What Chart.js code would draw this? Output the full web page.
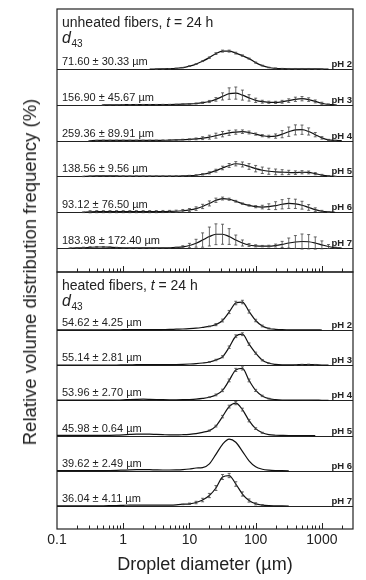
<!DOCTYPE html>
<html>
<head>
<meta charset="utf-8">
<script src="https://cdn.jsdelivr.net/npm/chart.js@4.4.1/dist/chart.umd.min.js"></script>
<style>
  html, body { margin: 0; padding: 0; background: #fff; }
  #wrap { position: relative; width: 366px; height: 580px; overflow: hidden; }
  canvas { position: absolute; left: 0; }
  #top { top: 0; }
  #bottom { top: 268px; }
  #ytitle {
    position: absolute; left: 30px; top: 272px;
    transform: translate(-50%, -50%) rotate(-90deg);
    white-space: nowrap; color: #222;
    font: 18.5px "Liberation Sans", Arial, sans-serif;
  }
</style>
</head>
<body>
<div id="wrap">
  <canvas id="top" width="366" height="276"></canvas>
  <canvas id="bottom" width="366" height="312"></canvas>
  <div id="ytitle">Relative volume distribution frequency (%)</div>
</div>
<script>
// --- DATA ---
// size classes (µm), log spaced
const DIAMETERS = [0.1, 0.126, 0.158, 0.2, 0.251, 0.316, 0.398, 0.501, 0.631, 0.794,
  1, 1.26, 1.58, 2, 2.51, 3.16, 3.98, 5.01, 6.31, 7.94,
  10, 12.6, 15.8, 20, 25.1, 31.6, 39.8, 50.1, 63.1, 79.4,
  100, 126, 158, 200, 251, 316, 398, 501, 631, 794,
  1000, 1259, 1585, 1995, 2512];

const X_LABELS = [0.1, 1, 10, 100, 1000];
const X_TICKS = [0.2, 0.3, 0.4, 0.5, 0.6, 0.7, 0.8, 0.9, 1, 2, 3, 4, 5, 6, 7, 8, 9, 10,
  20, 30, 40, 50, 60, 70, 80, 90, 100, 200, 300, 400, 500, 600, 700, 800, 900, 1000, 2000];

const PH_LABELS = ['pH 2', 'pH 3', 'pH 4', 'pH 5', 'pH 6', 'pH 7'];
const UNHEATED_D43 = ['71.60 ± 30.33 µm', '156.90 ± 45.67 µm', '259.36 ± 89.91 µm',
  '138.56 ± 9.56 µm', '93.12 ± 76.50 µm', '183.98 ± 172.40 µm'];
const HEATED_D43 = ['54.62 ± 4.25 µm', '55.14 ± 2.81 µm', '53.96 ± 2.70 µm',
  '45.98 ± 0.64 µm', '39.62 ± 2.49 µm', '36.04 ± 4.11 µm'];

// unheated fibers, volume frequency (%) and SD
const U_PH2 = [null, null, null, null, null, null, null, null, null, null,
  null, null, null, null, 0, 0.03, 0.06, 0.11, 0.22, 0.42,
  0.84, 1.40, 2.23, 3.21, 4.33, 5.03, 5.03, 4.47, 3.77, 2.93,
  1.82, 0.98, 0.45, 0.20, 0.11, 0.08, 0.08, 0.08, 0.08, 0.06,
  0.03, 0, null, null, null];
const U_PH2_SD = [null, null, null, null, null, null, null, null, null, null,
  null, null, null, null, 0, 0.05, 0.05, 0.05, 0.05, 0.05,
  0.1, 0.1, 0.12, 0.2, 0.25, 0.28, 0.28, 0.25, 0.2, 0.15,
  0.15, 0.12, 0.1, 0.1, 0.1, 0.1, 0.1, 0.1, 0.1, 0.08,
  0.05, 0, null, null, null];

const U_PH3 = [null, null, null, null, null, null, null, 0, 0.03, 0.03,
  0.06, 0.06, 0.08, 0.08, 0.08, 0.08, 0.11, 0.11, 0.14, 0.20,
  0.28, 0.39, 0.61, 0.95, 1.54, 2.37, 3.16, 3.30, 2.74, 1.96,
  1.28, 0.89, 0.73, 0.70, 0.87, 1.20, 1.56, 1.73, 1.48, 0.98,
  0.45, 0.14, 0.03, null, null];
const U_PH3_SD = [null, null, null, null, null, null, null, 0.05, 0.05, 0.05,
  0.05, 0.05, 0.05, 0.05, 0.05, 0.05, 0.05, 0.05, 0.05, 0.08,
  0.1, 0.15, 0.2, 0.3, 0.5, 1.0, 1.6, 1.7, 1.4, 0.9,
  0.6, 0.4, 0.3, 0.3, 0.4, 0.5, 0.6, 0.6, 0.5, 0.4,
  0.3, 0.1, 0.05, null, null];

const U_PH4 = [null, null, null, null, null, 0, 0.06, 0.08, 0.08, 0.08,
  0.08, 0.08, 0.08, 0.08, 0.08, 0.08, 0.11, 0.14, 0.20, 0.28,
  0.36, 0.50, 0.70, 0.98, 1.40, 1.82, 2.18, 2.40, 2.51, 2.29,
  1.84, 1.40, 1.17, 1.28, 1.82, 2.51, 3.02, 3.07, 2.57, 1.68,
  0.78, 0.22, 0.06, 0, null];
const U_PH4_SD = [null, null, null, null, null, 0.05, 0.05, 0.08, 0.08, 0.08,
  0.08, 0.08, 0.08, 0.08, 0.08, 0.08, 0.08, 0.08, 0.1, 0.12,
  0.15, 0.25, 0.4, 0.55, 0.7, 0.75, 0.7, 0.6, 0.5, 0.4,
  0.3, 0.3, 0.35, 0.6, 1.0, 1.3, 1.4, 1.3, 1.0, 0.6,
  0.35, 0.15, 0.05, 0, null];

const U_PH5 = [null, null, null, null, 0, 0.08, 0.14, 0.17, 0.17, 0.14,
  0.11, 0.08, 0.08, 0.08, 0.08, 0.08, 0.08, 0.08, 0.11, 0.14,
  0.22, 0.34, 0.61, 1.01, 1.62, 2.37, 3.07, 3.55, 3.35, 2.79,
  2.18, 1.73, 1.45, 1.28, 1.20, 1.12, 1.06, 1.17, 1.12, 0.78,
  0.39, 0.14, 0.03, null, null];
const U_PH5_SD = [null, null, null, null, 0.05, 0.08, 0.1, 0.1, 0.1, 0.08,
  0.08, 0.08, 0.08, 0.08, 0.08, 0.08, 0.08, 0.08, 0.08, 0.08,
  0.1, 0.15, 0.2, 0.3, 0.4, 0.5, 0.55, 0.6, 0.7, 0.8,
  0.9, 0.9, 0.85, 0.8, 0.7, 0.6, 0.5, 0.45, 0.4, 0.3,
  0.2, 0.1, 0.05, null, null];

const U_PH6 = [null, null, null, null, 0, 0.14, 0.17, 0.17, 0.17, 0.17,
  0.17, 0.17, 0.17, 0.17, 0.17, 0.17, 0.20, 0.22, 0.28, 0.42,
  0.64, 1.01, 1.62, 2.46, 3.35, 3.83, 3.63, 3.07, 2.40, 1.90,
  1.56, 1.45, 1.56, 1.84, 2.23, 2.46, 2.35, 1.96, 1.34, 0.73,
  0.28, 0.08, 0, null, null];
const U_PH6_SD = [null, null, null, null, 0.1, 0.3, 0.3, 0.3, 0.3, 0.3,
  0.3, 0.3, 0.3, 0.3, 0.3, 0.3, 0.3, 0.3, 0.3, 0.35,
  0.4, 0.5, 0.6, 0.7, 0.6, 0.4, 0.3, 0.25, 0.2, 0.2,
  0.3, 0.5, 0.8, 1.1, 1.3, 1.4, 1.3, 1.1, 0.8, 0.5,
  0.25, 0.1, 0, null, null];

const U_PH7 = [null, null, 0, 0.03, 0.08, 0.20, 0.28, 0.28, 0.20, 0.11,
  0.06, 0.03, 0.03, 0.03, 0.03, 0.03, 0.06, 0.08, 0.17, 0.34,
  0.70, 1.34, 2.23, 3.21, 3.85, 3.85, 3.21, 2.23, 1.40, 0.84,
  0.61, 0.53, 0.53, 0.70, 1.01, 1.40, 1.68, 1.82, 1.76, 1.40,
  0.89, 0.42, 0.11, 0, null];
const U_PH7_SD = [null, null, 0.05, 0.1, 0.15, 0.15, 0.15, 0.15, 0.15, 0.1,
  0.05, 0.05, 0.05, 0.05, 0.05, 0.05, 0.05, 0.05, 0.05, 0.3,
  0.6, 1.1, 2.0, 2.65, 2.9, 2.8, 2.2, 1.4, 0.85, 0.4,
  0.3, 0.2, 0.25, 0.4, 0.85, 1.4, 1.8, 2.1, 2.0, 1.7,
  1.1, 0.55, 0.15, 0, null];

// heated fibers
const H_PH2 = [0.06, 0.06, 0.06, 0.06, 0.06, 0.06, 0.06, 0.06, 0.06, 0.06,
  0.09, 0.09, 0.09, 0.09, 0.11, 0.11, 0.14, 0.17, 0.23, 0.28,
  0.37, 0.51, 0.74, 1.02, 1.53, 2.70, 5.11, 7.67, 7.95, 5.26,
  2.70, 1.14, 0.43, 0.20, 0.09, 0.06, 0.03, 0.03, 0.03, 0.03,
  0, null, null, null, null];
const H_PH2_SD = [null, null, null, null, null, null, null, null, null, null,
  null, null, null, null, null, null, null, null, null, null,
  null, null, null, 0.1, 0.3, 0.4, 0.45, 0.5, 0.5, 0.45,
  0.35, 0.25, 0.15, null, null, null, null, null, null, null,
  null, null, null, null, null];

const H_PH3 = [0.06, 0.06, 0.06, 0.06, 0.06, 0.06, 0.06, 0.06, 0.06, 0.06,
  0.09, 0.11, 0.14, 0.14, 0.14, 0.14, 0.14, 0.17, 0.20, 0.26,
  0.34, 0.45, 0.63, 0.91, 1.48, 2.41, 5.11, 8.24, 8.81, 5.97,
  3.41, 1.42, 0.57, 0.23, 0.11, 0.09, 0.11, 0.17, 0.20, 0.14,
  0.06, 0, null, null, null];
const H_PH3_SD = [null, null, null, null, null, null, null, null, null, null,
  null, null, null, null, null, null, null, null, null, null,
  null, null, null, 0.1, 0.2, 0.3, 0.35, 0.4, 0.4, 0.35,
  0.3, 0.2, 0.1, null, null, null, 0.08, 0.1, 0.1, 0.08,
  null, null, null, null, null];

const H_PH4 = [0.06, 0.06, 0.06, 0.06, 0.06, 0.06, 0.06, 0.06, 0.09, 0.11,
  0.17, 0.26, 0.31, 0.34, 0.31, 0.26, 0.20, 0.17, 0.17, 0.20,
  0.26, 0.37, 0.57, 0.91, 1.56, 2.84, 5.68, 8.66, 9.09, 5.68,
  2.84, 1.28, 0.51, 0.23, 0.11, 0.09, 0.09, 0.11, 0.11, 0.09,
  0.03, 0, null, null, null];
const H_PH4_SD = [null, null, null, null, null, null, null, null, null, null,
  null, null, null, null, null, null, null, null, null, null,
  null, null, null, 0.1, 0.25, 0.35, 0.4, 0.45, 0.45, 0.4,
  0.3, 0.2, 0.1, null, null, null, null, null, null, null,
  null, null, null, null, null];

const H_PH5 = [0.06, 0.06, 0.06, 0.06, 0.06, 0.06, 0.06, 0.06, 0.09, 0.14,
  0.23, 0.34, 0.43, 0.45, 0.43, 0.34, 0.26, 0.20, 0.20, 0.26,
  0.37, 0.57, 0.94, 1.42, 2.70, 5.40, 8.24, 9.23, 7.39, 4.26,
  1.99, 0.80, 0.28, 0.11, 0.06, 0.03, 0.03, 0.03, 0.03, 0,
  null, null, null, null, null];
const H_PH5_SD = [null, null, null, null, null, null, null, null, null, null,
  null, null, null, null, null, null, null, null, null, null,
  null, null, null, 0.15, 0.25, 0.35, 0.4, 0.45, 0.4, 0.35,
  0.25, 0.15, null, null, null, null, null, null, null, null,
  null, null, null, null, null];

const H_PH6 = [0.06, 0.06, 0.06, 0.06, 0.06, 0.06, 0.06, 0.06, 0.09, 0.14,
  0.20, 0.26, 0.31, 0.34, 0.31, 0.26, 0.23, 0.23, 0.26, 0.34,
  0.51, 0.80, 0.91, 1.99, 4.69, 7.53, 9.01, 8.10, 5.54, 2.84,
  1.14, 0.45, 0.17, 0.06, 0.03, 0, null, null, null, null,
  null, null, null, null, null];
const H_PH6_SD = [null, null, null, null, null, null, null, null, null, null,
  null, null, null, null, null, null, null, null, null, null,
  null, null, null, null, null, null, null, null, null, null,
  null, null, null, null, null, null, null, null, null, null,
  null, null, null, null, null];

const H_PH7 = [0.06, 0.06, 0.06, 0.06, 0.06, 0.06, 0.06, 0.06, 0.09, 0.14,
  0.20, 0.26, 0.28, 0.28, 0.26, 0.23, 0.23, 0.26, 0.34, 0.48,
  0.63, 0.99, 1.70, 2.98, 5.11, 8.24, 8.66, 6.25, 3.41, 1.56,
  0.63, 0.26, 0.11, 0.06, 0.03, 0, null, null, null, null,
  null, null, null, null, null];
const H_PH7_SD = [null, null, null, null, null, null, null, null, null, null,
  null, null, null, null, null, null, null, null, null, 0.1,
  0.2, 0.35, 0.5, 0.6, 0.7, 0.7, 0.6, 0.65, 0.6, 0.45,
  0.3, 0.15, null, null, null, null, null, null, null, null,
  null, null, null, null, null];

const UNHEATED = [U_PH2, U_PH3, U_PH4, U_PH5, U_PH6, U_PH7];
const UNHEATED_SD = [U_PH2_SD, U_PH3_SD, U_PH4_SD, U_PH5_SD, U_PH6_SD, U_PH7_SD];
const HEATED = [H_PH2, H_PH3, H_PH4, H_PH5, H_PH6, H_PH7];
const HEATED_SD = [H_PH2_SD, H_PH3_SD, H_PH4_SD, H_PH5_SD, H_PH6_SD, H_PH7_SD];

const ROW_STEP = 10; // vertical offset between stacked curves (%)
const X_MIN = 0.1;
const X_MAX = 2950;

// --- STYLE ---
const FONT = '"Liberation Sans", Arial, sans-serif';
const INK = '#222';

// --- HELPERS ---
const buildDatasets = (rows, sds) => rows.map((vals, k) => {
  const offset = (rows.length - 1 - k) * ROW_STEP;
  const data = [];
  DIAMETERS.forEach((d, i) => {
    if (vals[i] == null) return;
    data.push({ x: d, y: vals[i] + offset, e: sds[k][i] });
  });
  return {
    data,
    offset,
    borderColor: '#111',
    borderWidth: 1.2,
    pointRadius: 0,
    fill: false,
    cubicInterpolationMode: 'monotone'
  };
});

const isDecade = (v) => X_LABELS.some(l => Math.abs(Math.log10(v) - Math.log10(l)) < 1e-6);

// baselines, frame and inward ticks
const framePlugin = {
  id: 'frame',
  beforeDatasetsDraw(chart) {
    const { ctx, chartArea: { left, right, top, bottom }, scales: { x, y } } = chart;
    ctx.save();
    ctx.strokeStyle = INK;
    ctx.lineWidth = 1;
    chart.data.datasets.forEach(ds => {
      const py = Math.round(y.getPixelForValue(ds.offset)) + 0.5;
      ctx.beginPath();
      ctx.moveTo(left, py);
      ctx.lineTo(right, py);
      ctx.stroke();
    });
    ctx.lineWidth = 1.2;
    ctx.strokeRect(left, top, right - left, bottom - top);
    ctx.lineWidth = 1;
    X_TICKS.forEach(v => {
      const px = Math.round(x.getPixelForValue(v)) + 0.5;
      const len = isDecade(v) ? 6 : 3.5;
      ctx.beginPath();
      ctx.moveTo(px, bottom);
      ctx.lineTo(px, bottom - len);
      ctx.stroke();
    });
    ctx.restore();
  }
};

// vertical SD bars with small caps
const errorBars = {
  id: 'errorBars',
  afterDatasetsDraw(chart) {
    const { ctx, scales: { y } } = chart;
    ctx.save();
    ctx.strokeStyle = '#444';
    ctx.lineWidth = 0.8;
    chart.data.datasets.forEach((ds, di) => {
      const meta = chart.getDatasetMeta(di);
      ds.data.forEach((pt, i) => {
        if (pt.e == null || pt.e <= 0) return;
        const el = meta.data[i];
        const t = y.getPixelForValue(pt.y + pt.e);
        const b = y.getPixelForValue(pt.y - pt.e);
        ctx.beginPath();
        ctx.moveTo(el.x, t); ctx.lineTo(el.x, b);
        ctx.moveTo(el.x - 1.5, t); ctx.lineTo(el.x + 1.5, t);
        ctx.moveTo(el.x - 1.5, b); ctx.lineTo(el.x + 1.5, b);
        ctx.stroke();
      });
    });
    ctx.restore();
  }
};

// panel heading, d43 values and pH tags
const panelText = {
  id: 'panelText',
  afterDraw(chart, args, opts) {
    const { ctx, chartArea: { left, right, top }, scales: { y } } = chart;
    ctx.save();
    ctx.fillStyle = INK;
    ctx.textBaseline = 'alphabetic';
    let x0 = left + 5;
    ctx.font = `14px ${FONT}`;
    ctx.fillText(opts.heading, x0, top + 18);
    x0 += ctx.measureText(opts.heading).width;
    ctx.font = `italic 14px ${FONT}`;
    ctx.fillText('t', x0, top + 18);
    x0 += ctx.measureText('t').width;
    ctx.font = `14px ${FONT}`;
    ctx.fillText(' = 24 h', x0, top + 18);

    ctx.font = `italic 16px ${FONT}`;
    ctx.fillText('d', left + 5, top + 34);
    const dw = ctx.measureText('d').width;
    ctx.font = `10px ${FONT}`;
    ctx.fillText('43', left + 5 + dw + 0.5, top + 38);

    chart.data.datasets.forEach((ds, k) => {
      const py = y.getPixelForValue(ds.offset);
      ctx.textAlign = 'left';
      ctx.font = `11px ${FONT}`;
      ctx.fillText(opts.d43[k], left + 5, py - 4);
      ctx.textAlign = 'right';
      ctx.font = `bold 9.5px ${FONT}`;
      ctx.fillText(PH_LABELS[k], right - 1, py - 2);
    });
    ctx.restore();
  }
};

const baseOptions = (yMin, yMax, padTop, padBottom) => ({
  responsive: false,
  animation: false,
  devicePixelRatio: 1,
  events: [],
  layout: { padding: { left: 57, right: 13, top: padTop, bottom: padBottom } },
  scales: {
    x: { type: 'logarithmic', min: X_MIN, max: X_MAX, display: false },
    y: { type: 'linear', min: yMin, max: yMax, display: false }
  },
  plugins: { legend: { display: false }, tooltip: { enabled: false } }
});

// --- UPPER PANEL: unheated ---
const topOptions = baseOptions(-6.7, 66.8, 9, 4);
topOptions.plugins.panelText = { heading: 'unheated fibers, ', d43: UNHEATED_D43 };
new Chart(document.getElementById('top'), {
  type: 'line',
  data: { datasets: buildDatasets(UNHEATED, UNHEATED_SD) },
  options: topOptions,
  plugins: [framePlugin, errorBars, panelText]
});

// --- LOWER PANEL: heated, carries the x axis ---
const bottomOptions = baseOptions(-6.53, 66.48, 4, 0);
bottomOptions.plugins.panelText = { heading: 'heated fibers, ', d43: HEATED_D43 };
bottomOptions.scales.x = {
  type: 'logarithmic',
  min: X_MIN,
  max: X_MAX,
  display: true,
  border: { display: false },
  grid: { display: false, drawTicks: false },
  ticks: {
    autoSkip: false,
    maxRotation: 0,
    minRotation: 0,
    padding: 3,
    color: INK,
    font: { family: FONT, size: 14 },
    callback: (v) => {
      const hit = X_LABELS.find(l => Math.abs(Math.log10(v) - Math.log10(l)) < 1e-6);
      return hit === undefined ? '' : String(hit);
    }
  },
  title: {
    display: true,
    text: 'Droplet diameter (µm)',
    color: INK,
    font: { family: FONT, size: 18 },
    padding: { top: 0, bottom: 4 }
  },
  afterFit: (scale) => { scale.height = 51; }
};
new Chart(document.getElementById('bottom'), {
  type: 'line',
  data: { datasets: buildDatasets(HEATED, HEATED_SD) },
  options: bottomOptions,
  plugins: [framePlugin, errorBars, panelText]
});
</script>
</body>
</html>
